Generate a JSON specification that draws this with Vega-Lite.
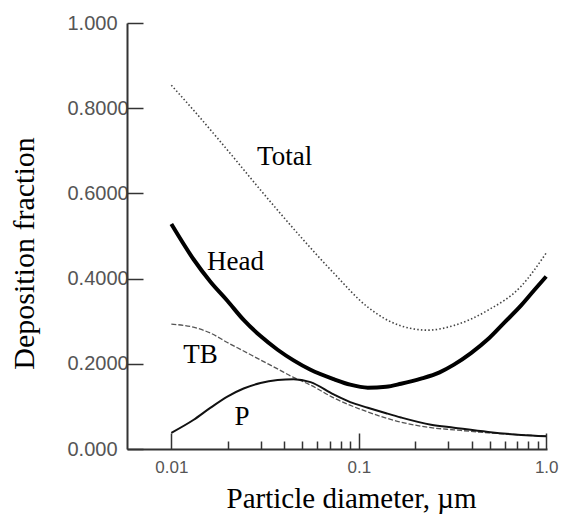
{
  "$schema": "https://vega.github.io/schema/vega-lite/v6.json",
  "width": 420,
  "height": 426,
  "autosize": {"type": "none"},
  "padding": {"left": 127, "top": 23, "right": 37, "bottom": 69},
  "background": "white",
  "config": {"view": {"stroke": null}, "axis": {"grid": false}},
  "datasets": {
    "curves": [
      {"series": "Total", "d": 0.01, "f": 0.854},
      {"series": "Total", "d": 0.0131, "f": 0.796},
      {"series": "Total", "d": 0.0199, "f": 0.702},
      {"series": "Total", "d": 0.0299, "f": 0.608},
      {"series": "Total", "d": 0.049, "f": 0.498},
      {"series": "Total", "d": 0.0735, "f": 0.413},
      {"series": "Total", "d": 0.1117, "f": 0.333},
      {"series": "Total", "d": 0.168, "f": 0.289},
      {"series": "Total", "d": 0.234, "f": 0.279},
      {"series": "Total", "d": 0.322, "f": 0.290},
      {"series": "Total", "d": 0.49, "f": 0.326},
      {"series": "Total", "d": 0.735, "f": 0.382},
      {"series": "Total", "d": 1.0, "f": 0.46},
      {"series": "Head", "d": 0.01, "f": 0.528},
      {"series": "Head", "d": 0.0131, "f": 0.446},
      {"series": "Head", "d": 0.0162, "f": 0.392},
      {"series": "Head", "d": 0.0199, "f": 0.348},
      {"series": "Head", "d": 0.0243, "f": 0.303},
      {"series": "Head", "d": 0.0299, "f": 0.265},
      {"series": "Head", "d": 0.0369, "f": 0.233},
      {"series": "Head", "d": 0.0449, "f": 0.208},
      {"series": "Head", "d": 0.0553, "f": 0.186},
      {"series": "Head", "d": 0.0735, "f": 0.164},
      {"series": "Head", "d": 0.09, "f": 0.151},
      {"series": "Head", "d": 0.1117, "f": 0.144},
      {"series": "Head", "d": 0.14, "f": 0.146},
      {"series": "Head", "d": 0.168, "f": 0.153},
      {"series": "Head", "d": 0.215, "f": 0.165},
      {"series": "Head", "d": 0.27, "f": 0.180},
      {"series": "Head", "d": 0.322, "f": 0.198},
      {"series": "Head", "d": 0.397, "f": 0.225},
      {"series": "Head", "d": 0.49, "f": 0.258},
      {"series": "Head", "d": 0.596, "f": 0.296},
      {"series": "Head", "d": 0.735, "f": 0.337},
      {"series": "Head", "d": 0.86, "f": 0.372},
      {"series": "Head", "d": 1.0, "f": 0.405},
      {"series": "TB", "d": 0.01, "f": 0.293},
      {"series": "TB", "d": 0.0131, "f": 0.286},
      {"series": "TB", "d": 0.0162, "f": 0.272},
      {"series": "TB", "d": 0.0199, "f": 0.250},
      {"series": "TB", "d": 0.0243, "f": 0.230},
      {"series": "TB", "d": 0.0299, "f": 0.209},
      {"series": "TB", "d": 0.0369, "f": 0.188},
      {"series": "TB", "d": 0.0449, "f": 0.168},
      {"series": "TB", "d": 0.0553, "f": 0.150},
      {"series": "TB", "d": 0.0735, "f": 0.120},
      {"series": "TB", "d": 0.1117, "f": 0.087},
      {"series": "TB", "d": 0.168, "f": 0.063},
      {"series": "TB", "d": 0.243, "f": 0.050},
      {"series": "TB", "d": 0.322, "f": 0.045},
      {"series": "TB", "d": 0.49, "f": 0.038},
      {"series": "TB", "d": 0.735, "f": 0.033},
      {"series": "TB", "d": 1.0, "f": 0.030},
      {"series": "P", "d": 0.01, "f": 0.038},
      {"series": "P", "d": 0.0131, "f": 0.068},
      {"series": "P", "d": 0.0162, "f": 0.097},
      {"series": "P", "d": 0.0199, "f": 0.123},
      {"series": "P", "d": 0.0243, "f": 0.142},
      {"series": "P", "d": 0.0299, "f": 0.155},
      {"series": "P", "d": 0.0369, "f": 0.162},
      {"series": "P", "d": 0.0449, "f": 0.164},
      {"series": "P", "d": 0.0553, "f": 0.157},
      {"series": "P", "d": 0.0735, "f": 0.128},
      {"series": "P", "d": 0.09, "f": 0.110},
      {"series": "P", "d": 0.1117, "f": 0.097},
      {"series": "P", "d": 0.14, "f": 0.084},
      {"series": "P", "d": 0.168, "f": 0.074},
      {"series": "P", "d": 0.243, "f": 0.057},
      {"series": "P", "d": 0.322, "f": 0.050},
      {"series": "P", "d": 0.49, "f": 0.040},
      {"series": "P", "d": 0.735, "f": 0.033},
      {"series": "P", "d": 1.0, "f": 0.030}
    ],
    "labels": [
      {"text": "Total", "d": 0.0402, "f": 0.667},
      {"text": "Head", "d": 0.0220, "f": 0.420},
      {"text": "TB", "d": 0.01429, "f": 0.202},
      {"text": "P", "d": 0.0238, "f": 0.056}
    ]
  },
  "layer": [
    {
      "data": {"name": "curves"},
      "transform": [{"filter": "datum.series == 'Total'"}],
      "mark": {"type": "line", "color": "#444", "strokeWidth": 1.6, "strokeDash": [1.5, 2.2], "interpolate": "monotone"},
      "encoding": {
        "x": {"field": "d", "type": "quantitative",
          "scale": {"type": "log", "domain": [0.0058, 1.01], "nice": false},
          "axis": {"orient": "bottom", "values": [0.01, 0.1, 1], "ticks": false, "domain": false,
            "labelExpr": "datum.value >= 0.99 ? '1.0' : (datum.value >= 0.099 ? '0.1' : '0.01')",
            "labelFont": "Liberation Sans", "labelFontSize": 17, "labelColor": "#555",
            "labelBaseline": "middle", "labelPadding": 18, "labelFlush": false, "labelOverlap": false,
            "title": "Particle diameter, µm", "titleFont": "Liberation Serif", "titleFontSize": 29,
            "titleFontWeight": "normal", "titleColor": "#000", "titleX": 224, "titleY": 58,
            "titleBaseline": "alphabetic", "titleAlign": "center", "titleAnchor": null}},
        "y": {"field": "f", "type": "quantitative",
          "scale": {"domain": [0, 1], "nice": false},
          "axis": {"orient": "left", "values": [0, 0.2, 0.4, 0.6, 0.8, 1], "ticks": false, "domain": false,
            "labelExpr": "datum.value == 0 ? '0.000' : (datum.value == 1 ? '1.000' : format(datum.value, '.4f'))",
            "labelFont": "Liberation Sans", "labelFontSize": 20, "labelColor": "#555",
            "labelAlign": "left", "labelBaseline": "middle", "labelPadding": 60, "labelFlush": false, "labelOverlap": false,
            "title": "Deposition fraction", "titleFont": "Liberation Serif", "titleFontSize": 30,
            "titleFontWeight": "normal", "titleColor": "#000", "titleX": -94, "titleY": 230,
            "titleAngle": -90, "titleBaseline": "alphabetic", "titleAlign": "center", "titleAnchor": null}}
      }
    },
    {
      "data": {"name": "curves"},
      "transform": [{"filter": "datum.series == 'Head'"}],
      "mark": {"type": "line", "color": "#000", "strokeWidth": 4, "interpolate": "monotone"},
      "encoding": {
        "x": {"field": "d", "type": "quantitative",
          "scale": {"type": "log", "domain": [0.0058, 1.01], "nice": false},
          "axis": {"orient": "top", "offset": -426, "values": [0.01, 0.1, 1], "labels": false, "tickSize": 16,
            "tickColor": "#333", "tickWidth": 1.5, "domain": true, "domainColor": "#333", "domainWidth": 2, "title": null}},
        "y": {"field": "f", "type": "quantitative",
          "scale": {"domain": [0, 1], "nice": false},
          "axis": {"orient": "right", "offset": -420, "values": [0, 0.2, 0.4, 0.6, 0.8, 1], "labels": false, "tickSize": 16,
            "tickColor": "#333", "tickWidth": 1.5, "domain": true, "domainColor": "#333", "domainWidth": 2, "title": null}}
      }
    },
    {
      "data": {"name": "curves"},
      "transform": [{"filter": "datum.series == 'TB'"}],
      "mark": {"type": "line", "color": "#555", "strokeWidth": 1.3, "strokeDash": [5, 2], "interpolate": "monotone"},
      "encoding": {
        "x": {"field": "d", "type": "quantitative",
          "scale": {"type": "log", "domain": [0.0058, 1.01], "nice": false},
          "axis": {"orient": "top", "offset": -426, "values": [0.02, 0.03, 0.04, 0.05, 0.06, 0.07, 0.08, 0.09, 0.2, 0.3, 0.4, 0.5, 0.6, 0.7, 0.8, 0.9],
            "labels": false, "tickSize": 8, "tickColor": "#333", "tickWidth": 1.5, "domain": false, "title": null}},
        "y": {"field": "f", "type": "quantitative", "scale": {"domain": [0, 1], "nice": false}, "axis": null}
      }
    },
    {
      "data": {"name": "curves"},
      "transform": [{"filter": "datum.series == 'P'"}],
      "mark": {"type": "line", "color": "#111", "strokeWidth": 2, "interpolate": "monotone"},
      "encoding": {
        "x": {"field": "d", "type": "quantitative", "scale": {"type": "log", "domain": [0.0058, 1.01], "nice": false}, "axis": null},
        "y": {"field": "f", "type": "quantitative", "scale": {"domain": [0, 1], "nice": false}, "axis": null}
      }
    },
    {
      "data": {"name": "labels"},
      "mark": {"type": "text", "font": "Liberation Serif", "fontSize": 27, "color": "#000", "align": "center", "baseline": "alphabetic"},
      "encoding": {
        "x": {"field": "d", "type": "quantitative", "scale": {"type": "log", "domain": [0.0058, 1.01], "nice": false}, "axis": null},
        "y": {"field": "f", "type": "quantitative", "scale": {"domain": [0, 1], "nice": false}, "axis": null},
        "text": {"field": "text"}
      }
    }
  ],
  "resolve": {"axis": {"x": "independent", "y": "independent"}}
}
